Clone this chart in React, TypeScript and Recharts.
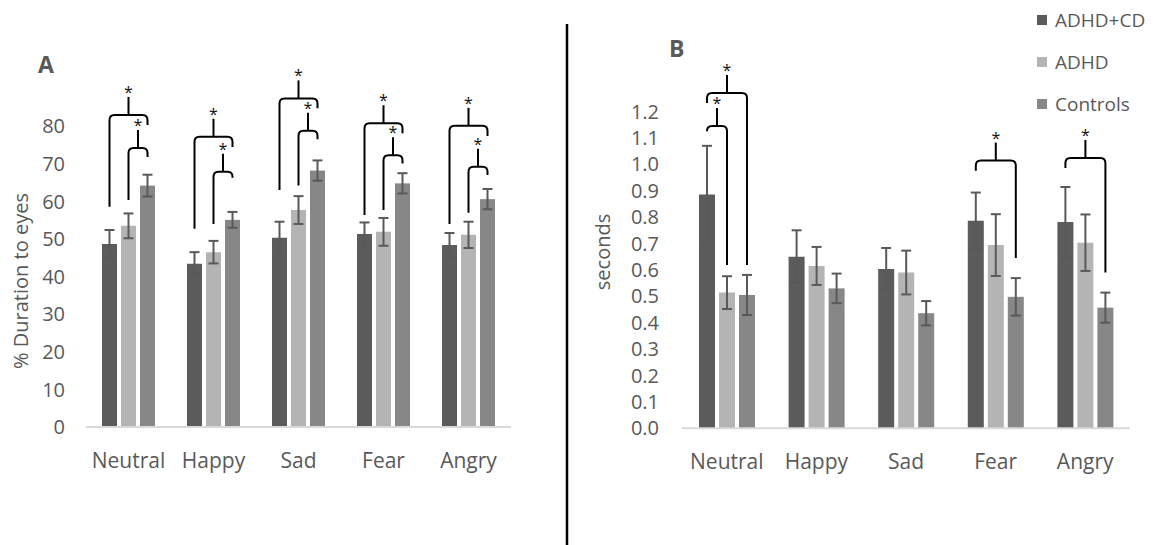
import React from 'react';
import { BarChart, Bar, XAxis, YAxis, ErrorBar, Legend } from 'recharts';

const categories = ['Neutral', 'Happy', 'Sad', 'Fear', 'Angry'];
const seriesNames = ['ADHD+CD', 'ADHD', 'Controls'];

// panel A: % duration to eyes
const durADHDCD = [48.7, 43.4, 50.3, 51.3, 48.4];
const durADHD = [53.5, 46.5, 57.7, 51.9, 51.1];
const durControls = [64.2, 55.1, 68.2, 64.8, 60.6];
const durErrADHDCD = [3.7, 3.1, 4.3, 3.1, 3.2];
const durErrADHD = [3.3, 3.0, 3.7, 3.7, 3.5];
const durErrControls = [2.9, 2.1, 2.7, 2.7, 2.7];
const durTicks = [0, 10, 20, 30, 40, 50, 60, 70, 80];

// panel B: seconds
const secADHDCD = [0.886, 0.65, 0.603, 0.786, 0.781];
const secADHD = [0.514, 0.615, 0.59, 0.694, 0.703];
const secControls = [0.505, 0.53, 0.436, 0.498, 0.457];
const secErrADHDCD = [0.184, 0.1, 0.08, 0.107, 0.133];
const secErrADHD = [0.062, 0.072, 0.083, 0.117, 0.107];
const secErrControls = [0.076, 0.056, 0.046, 0.071, 0.057];
const secTicks = [0, 0.1, 0.2, 0.3, 0.4, 0.5, 0.6, 0.7, 0.8, 0.9, 1.0, 1.1, 1.2];

// significance brackets: series index from/to, leg ends and top in data units
const durBrackets = [
  { category: 'Neutral', from: 0, to: 2, left: 58.6, top: 83.0, right: 80.3 },
  { category: 'Neutral', from: 1, to: 2, left: 60.4, top: 74.2, right: 71.8 },
  { category: 'Happy', from: 0, to: 2, left: 52.7, top: 77.2, right: 74.5 },
  { category: 'Happy', from: 1, to: 2, left: 54.0, top: 67.9, right: 66.3 },
  { category: 'Sad', from: 0, to: 2, left: 63.0, top: 87.4, right: 84.8 },
  { category: 'Sad', from: 1, to: 2, left: 64.2, top: 78.8, right: 76.5 },
  { category: 'Fear', from: 0, to: 2, left: 56.4, top: 80.8, right: 78.1 },
  { category: 'Fear', from: 1, to: 2, left: 57.7, top: 72.3, right: 70.1 },
  { category: 'Angry', from: 0, to: 2, left: 54.0, top: 80.1, right: 77.4 },
  { category: 'Angry', from: 1, to: 2, left: 57.0, top: 69.2, right: 67.0 },
];
const secBrackets = [
  { category: 'Neutral', from: 0, to: 2, left: 1.232, top: 1.27, right: 0.619 },
  { category: 'Neutral', from: 0, to: 1, left: 1.125, top: 1.145, right: 0.619 },
  { category: 'Fear', from: 0, to: 2, left: 0.976, top: 1.014, right: 0.645 },
  { category: 'Angry', from: 0, to: 2, left: 0.986, top: 1.024, right: 0.59 },
];

const FONT = "'Open Sans', sans-serif";
const TEXT = '#595959';
const COLORS = ['#5b5b5b', '#b4b4b4', '#878787'];
const AXIS_LINE = '#d9d9d9';

const durData = categories.map((category, i) => ({
  category,
  g0: durADHDCD[i], g1: durADHD[i], g2: durControls[i],
  e0: durErrADHDCD[i], e1: durErrADHD[i], e2: durErrControls[i],
}));
const secData = categories.map((category, i) => ({
  category,
  g0: secADHDCD[i], g1: secADHD[i], g2: secControls[i],
  e0: secErrADHDCD[i], e1: secErrADHD[i], e2: secErrControls[i],
}));

// last series draws its bar plus the brackets of its category, using its own geometry for scale
function bracketShape(brackets: any[], gap: number) {
  return (props: any) => {
    const { x, y, width, height, fill, payload } = props;
    const base = y + height;
    const k = height / payload.g2;
    const toY = (v: number) => base - v * k;
    const cx = (s: number) => x + width / 2 - (2 - s) * (width + gap);
    const list = brackets.filter((b) => b.category === payload.category);
    return (
      <g>
        <rect x={x} y={y} width={width} height={height} fill={fill} />
        {list.map((b, i) => {
          const xl = cx(b.from);
          const xr = cx(b.to);
          const yt = toY(b.top);
          const r = 5;
          const d = `M${xl},${Math.max(toY(b.left), yt + r)} L${xl},${yt + r} Q${xl},${yt} ${xl + r},${yt} L${xr - r},${yt} Q${xr},${yt} ${xr},${yt + r} L${xr},${toY(b.right)}`;
          const xm = (xl + xr) / 2;
          return (
            <g key={i}>
              <path d={d} fill="none" stroke="#000" strokeWidth={2} />
              <line x1={xm} y1={yt} x2={xm} y2={yt - 18} stroke="#000" strokeWidth={2} />
              <text x={xm} y={yt - 17} textAnchor="middle" fontSize={16} fontFamily={FONT} fill="#111">*</text>
            </g>
          );
        })}
      </g>
    );
  };
}

const renderLegend = () => (
  <div style={{ fontFamily: FONT, fontSize: 19, color: TEXT }}>
    {seriesNames.map((s, i) => (
      <div key={s} style={{ display: 'flex', alignItems: 'center', height: 42 }}>
        <span style={{ display: 'inline-block', width: 10, height: 10, background: COLORS[i], marginRight: 8 }} />
        {s}
      </div>
    ))}
  </div>
);

const tickStyle = { fill: TEXT, fontSize: 20, fontFamily: FONT };

export default function App() {
  return (
    <div style={{ position: 'absolute', left: 0, top: 0, width: 1155, height: 545, background: '#fff', overflow: 'hidden' }}>
      <div style={{ position: 'absolute', left: 0, top: 0 }}>
        <BarChart width={540} height={545} data={durData} margin={{ top: 51, right: 29, bottom: 0, left: 0 }} barGap={4} barSize={15}>
          <XAxis dataKey="category" height={118} interval={0} tickLine={false} tickSize={0} tickMargin={26}
            axisLine={{ stroke: AXIS_LINE, strokeWidth: 2 }} tick={{ ...tickStyle, fontSize: 21 }} />
          <YAxis type="number" domain={[0, 100]} ticks={durTicks} interval={0} width={86} axisLine={false} tickLine={false}
            tickSize={0} tickMargin={21} tick={tickStyle}
            label={{ content: () => (
              <text x={20} y={281} transform="rotate(-90, 20, 281)" textAnchor="middle" dominantBaseline="central"
                fontSize={20} fontFamily={FONT} fill={TEXT}>% Duration to eyes</text>
            ) }} />
          <Bar dataKey="g0" name={seriesNames[0]} fill={COLORS[0]} isAnimationActive={false}>
            <ErrorBar dataKey="e0" width={5} stroke={TEXT} strokeWidth={2} isAnimationActive={false} />
          </Bar>
          <Bar dataKey="g1" name={seriesNames[1]} fill={COLORS[1]} isAnimationActive={false}>
            <ErrorBar dataKey="e1" width={5} stroke={TEXT} strokeWidth={2} isAnimationActive={false} />
          </Bar>
          <Bar dataKey="g2" name={seriesNames[2]} fill={COLORS[2]} isAnimationActive={false} shape={bracketShape(durBrackets, 4)}>
            <ErrorBar dataKey="e2" width={5} stroke={TEXT} strokeWidth={2} isAnimationActive={false} />
          </Bar>
        </BarChart>
      </div>
      <div style={{ position: 'absolute', left: 570, top: 0 }}>
        <BarChart width={585} height={545} data={secData} margin={{ top: 58.7, right: 25, bottom: 0, left: 0 }} barGap={4} barSize={16}>
          <XAxis dataKey="category" height={116.7} interval={0} tickLine={false} tickSize={0} tickMargin={26}
            axisLine={{ stroke: AXIS_LINE, strokeWidth: 2 }} tick={{ ...tickStyle, fontSize: 21 }} />
          <YAxis type="number" domain={[0, 1.4]} ticks={secTicks} interval={0} width={112} axisLine={false} tickLine={false}
            tickSize={0} tickMargin={23} tick={tickStyle} tickFormatter={(v: number) => v.toFixed(1)}
            label={{ content: () => (
              <text x={32} y={252} transform="rotate(-90, 32, 252)" textAnchor="middle" dominantBaseline="central"
                fontSize={20} fontFamily={FONT} fill={TEXT}>seconds</text>
            ) }} />
          <Legend layout="vertical" align="center" verticalAlign="middle" content={renderLegend}
            wrapperStyle={{ left: 467, top: -1, width: 118, height: 126 }} />
          <Bar dataKey="g0" name={seriesNames[0]} fill={COLORS[0]} isAnimationActive={false}>
            <ErrorBar dataKey="e0" width={5} stroke={TEXT} strokeWidth={2} isAnimationActive={false} />
          </Bar>
          <Bar dataKey="g1" name={seriesNames[1]} fill={COLORS[1]} isAnimationActive={false}>
            <ErrorBar dataKey="e1" width={5} stroke={TEXT} strokeWidth={2} isAnimationActive={false} />
          </Bar>
          <Bar dataKey="g2" name={seriesNames[2]} fill={COLORS[2]} isAnimationActive={false} shape={bracketShape(secBrackets, 4)}>
            <ErrorBar dataKey="e2" width={5} stroke={TEXT} strokeWidth={2} isAnimationActive={false} />
          </Bar>
        </BarChart>
      </div>
      <svg width={1155} height={545} style={{ position: 'absolute', left: 0, top: 0, pointerEvents: 'none' }}>
        <line x1={567} y1={24} x2={567} y2={545} stroke="#000" strokeWidth={2.5} />
        <text x={38} y={73} fontSize={23} fontWeight="bold" fontFamily={FONT} fill={TEXT}>A</text>
        <text x={669} y={57} fontSize={23} fontWeight="bold" fontFamily={FONT} fill={TEXT}>B</text>
      </svg>
    </div>
  );
}
